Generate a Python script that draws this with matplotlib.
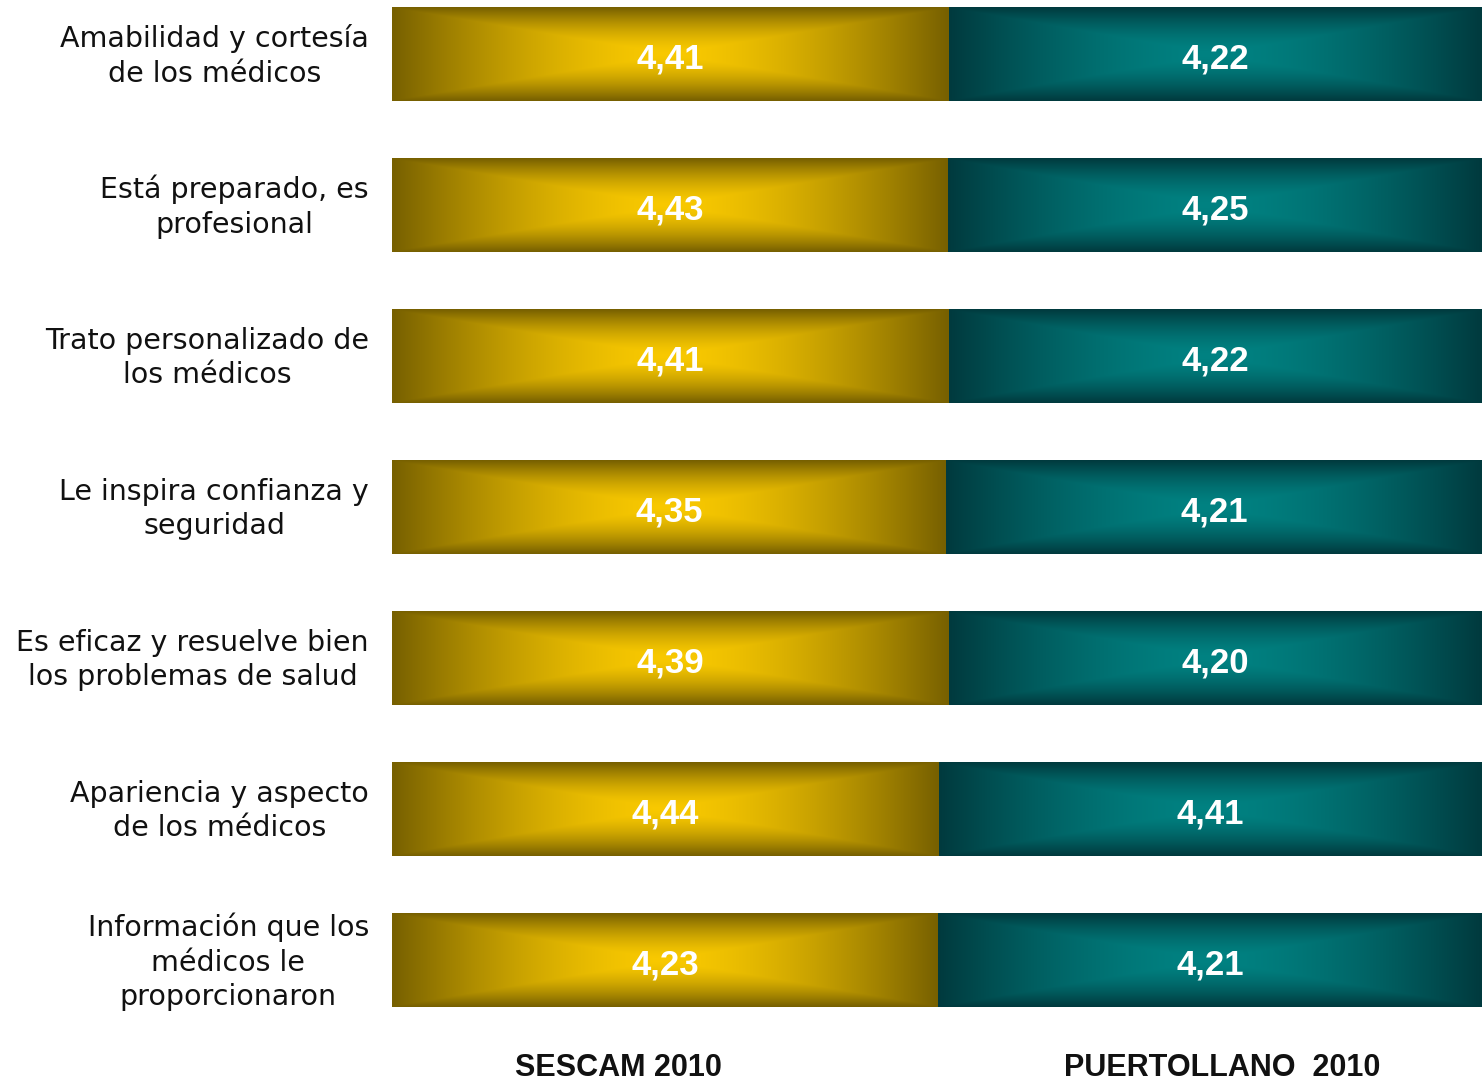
import numpy as np
import matplotlib
matplotlib.use("Agg")
import matplotlib.pyplot as plt

categories = [
    "Amabilidad y cortesía\nde los médicos",
    "Está preparado, es\nprofesional",
    "Trato personalizado de\nlos médicos",
    "Le inspira confianza y\nseguridad",
    "Es eficaz y resuelve bien\nlos problemas de salud",
    "Apariencia y aspecto\nde los médicos",
    "Información que los\nmédicos le\nproporcionaron",
]
sescam = [4.41, 4.43, 4.41, 4.35, 4.39, 4.44, 4.23]
puertollano = [4.22, 4.25, 4.22, 4.21, 4.20, 4.41, 4.21]
series_names = ["SESCAM 2010", "PUERTOLLANO  2010"]

fig = plt.figure(figsize=(14.82, 10.82), dpi=100)
W, H = 1482, 1082
ax = fig.add_axes([392 / W, 0, 1 - 392 / W, 1])
n = len(categories)
step = 151
top_c = 54
ax.axis("off")

def grad(bright, dark, nx=300, ny=80):
    u = np.linspace(-1, 1, nx)
    v = np.linspace(-1, 1, ny)
    U, V = np.meshgrid(u, v)
    t = np.maximum(np.abs(U), np.abs(V))
    t = np.clip(t, 0, 1) ** 1.6
    b = np.array(matplotlib.colors.to_rgb(bright))
    d = np.array(matplotlib.colors.to_rgb(dark))
    return b[None, None, :] * (1 - t[..., None]) + d[None, None, :] * t[..., None]

gold = grad("#f9c900", "#776000")
teal = grad("#008282", "#003a3e")

bh = 94
for i in range(n):
    s, p = sescam[i], puertollano[i]
    f = s / (s + p)
    yc = top_c + i * step
    y0, y1 = yc - bh / 2, yc + bh / 2
    ax.imshow(gold, extent=[0, f, y1, y0], aspect="auto", interpolation="bilinear", zorder=1)
    ax.imshow(teal, extent=[f, 1, y1, y0], aspect="auto", interpolation="bilinear", zorder=1)
    ax.text(f / 2, yc + 5, f"{s:.2f}".replace(".", ","), color="white", ha="center", va="center",
            fontsize=25, fontweight="bold", family="Liberation Sans", zorder=3)
    ax.text(f + (1 - f) / 2, yc + 5, f"{p:.2f}".replace(".", ","), color="white", ha="center",
            va="center", fontsize=25, fontweight="bold", family="Liberation Sans", zorder=3)
    fig.text(369 / W, 1 - (yc + 2) / H, categories[i], ha="right", va="center", multialignment="center",
             fontsize=20.5, family="DejaVu Sans", color="#111111", linespacing=1.3)

ax.set_xlim(0, 1)
ax.set_ylim(H, 0)
fig.text(618 / W, 1 - 1068 / H, series_names[0], ha="center", va="center", fontsize=22,
         fontweight="bold", family="Liberation Sans", color="#111111")
fig.text(1222 / W, 1 - 1068 / H, series_names[1], ha="center", va="center", fontsize=22,
         fontweight="bold", family="Liberation Sans", color="#111111")

fig.savefig("out.png", dpi=100, facecolor="white")
